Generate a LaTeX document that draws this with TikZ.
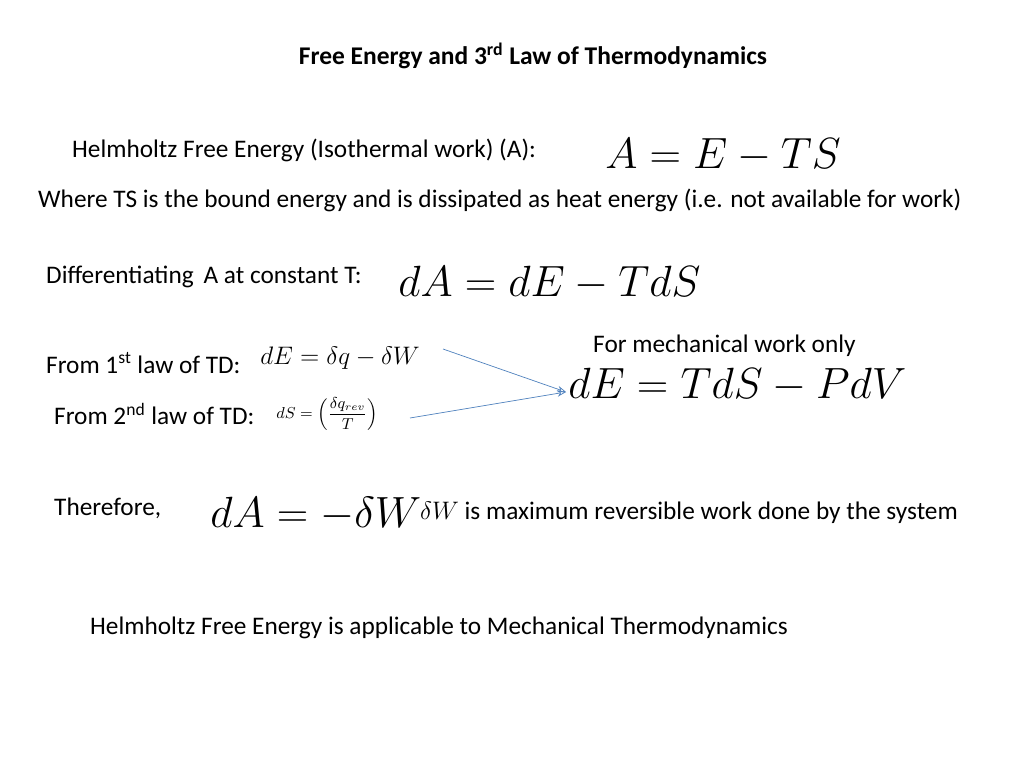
\documentclass[tikz,border=0pt]{standalone}
\usepackage{fontspec}
\setmainfont{Carlito}
\usetikzlibrary{arrows.meta}

\begin{document}
\begin{tikzpicture}[x=0.02cm,y=-0.02cm,
    txt/.style={anchor=west,font=\fontsize{14.4}{17}\selectfont},
    eqn/.style={anchor=west,inner sep=0pt},
    link/.style={draw={rgb,255:red,79;green,129;blue,189},-{Stealth[open,length=5pt]}}]
    % Rahmen
    \useasboundingbox (0,0) rectangle (1024,768);
    
    % Titel
    \node[font=\fontsize{14.5}{17}\bfseries] (title) at (533,56)
        {Free Energy and 3\textsuperscript{rd} Law of Thermodynamics};
    
    % Helmholtz
    \node[txt] (helm) at (66,150) {Helmholtz Free Energy (Isothermal work) (A):};
    \node[eqn,font=\fontsize{25}{30}\selectfont] (eqA) at (605,155) {$A = E - TS$};
    \node[txt] (where) at (32,200) {Where TS is the bound energy and is dissipated as heat energy (i.e. not available for work)};
    
    % Ableitung
    \node[txt] (diff) at (40,277) {Differentiating\, A at constant T:};
    \node[eqn,font=\fontsize{25}{30}\selectfont] (eqdA) at (398,283) {$dA = dE - TdS$};
    
    % Hauptsaetze
    \node[txt] (mech) at (587,346) {For mechanical work only};
    \node[txt] (first) at (40,363) {From 1\textsuperscript{st} law of TD:};
    \node[eqn,font=\fontsize{13.5}{16}\selectfont] (eqdE) at (260,358) {$dE = \delta q - \delta W$};
    \node[txt] (second) at (48,414) {From 2\textsuperscript{nd} law of TD:};
    \node[eqn,font=\fontsize{9}{11}\selectfont] (eqdS) at (276,414)
        {$dS = \left(\displaystyle\frac{\delta q_{rev}}{T}\right)$};
    \node[eqn,font=\fontsize{24}{28}\selectfont] (eqTdS) at (568,385) {$dE = TdS - PdV$};
    \coordinate (tip) at (566,392);
    \draw[link] (443,349) -- (tip);
    \draw[link] (410,418) -- (tip);
    
    % Ergebnis
    \node[txt] (there) at (48,508) {Therefore,};
    \node[eqn,font=\fontsize{26.5}{30}\selectfont] (eqW) at (210,514) {$dA = -\delta W$};
    \node[txt] (maxw) at (414,513) {$\delta W$ is maximum reversible work done by the system};
    
    % Fazit
    \node[txt] (concl) at (84,628) {Helmholtz Free Energy is applicable to Mechanical Thermodynamics};
\end{tikzpicture}
\end{document}
